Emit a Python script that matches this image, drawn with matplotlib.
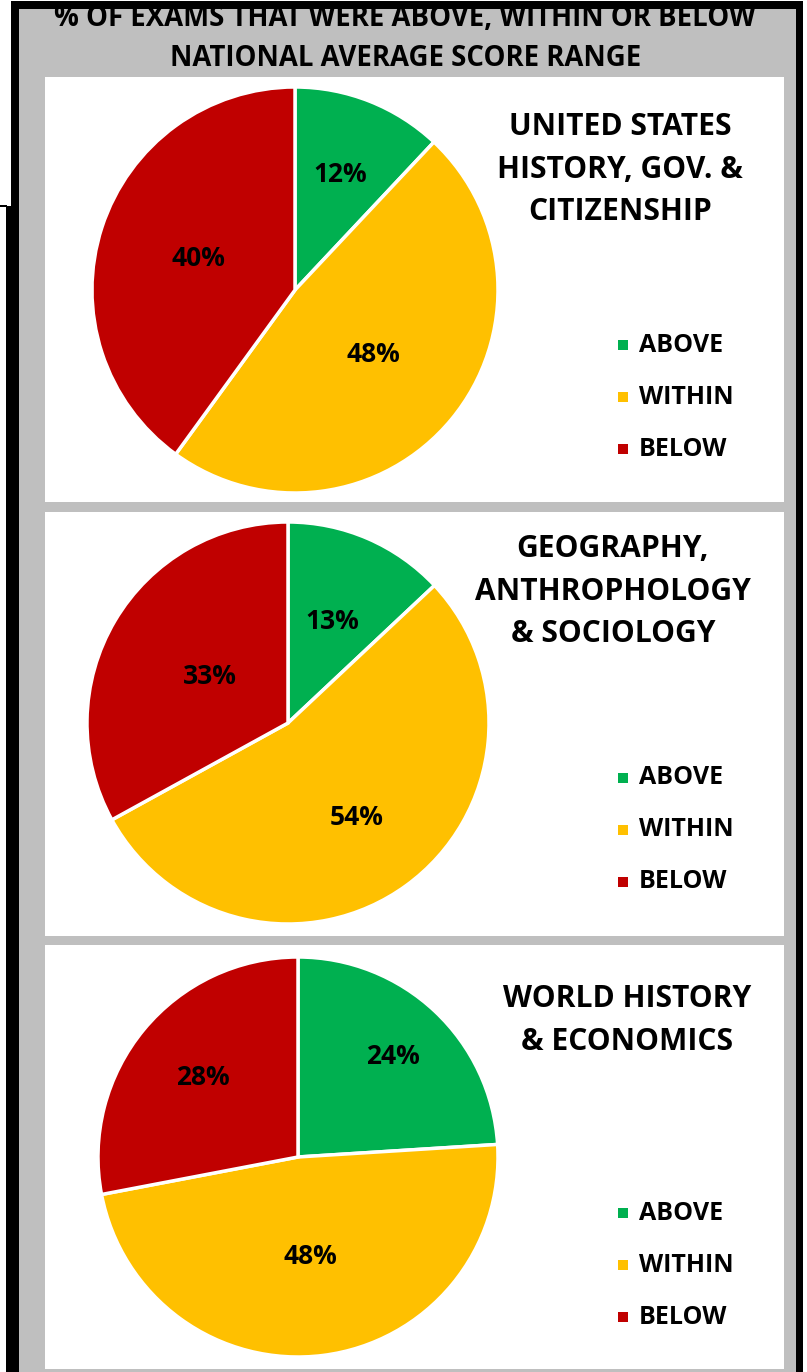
import matplotlib
matplotlib.use("Agg")
import matplotlib.pyplot as plt
from matplotlib.patches import Rectangle
from matplotlib import font_manager as fm
import numpy as np

# ---- data ----
categories = ["ABOVE", "WITHIN", "BELOW"]
colors = ["#00B050", "#FFC000", "#C00000"]
subjects = [
    "UNITED STATES\nHISTORY, GOV. &\nCITIZENSHIP",
    "GEOGRAPHY,\nANTHROPHOLOGY\n& SOCIOLOGY",
    "WORLD HISTORY\n& ECONOMICS",
]
us_history = [12, 48, 40]
geography = [13, 54, 33]
world_history = [24, 48, 28]
title = "% OF EXAMS THAT WERE ABOVE, WITHIN OR BELOW\nNATIONAL AVERAGE SCORE RANGE"

# ---- pick a font that has a real bold face ----
family = "DejaVu Sans"
for cand in ["Open Sans", "Lato", "Noto Sans", "Roboto", "Liberation Sans"]:
    ok = False
    for f in fm.fontManager.ttflist:
        w = f.weight if isinstance(f.weight, int) else fm.weight_dict.get(f.weight, 400)
        if f.name == cand and w >= 700 and f.style == "normal" and "Condensed" not in f.fname:
            ok = True
            break
    if ok:
        family = cand
        break
plt.rcParams['font.family'] = [family, 'DejaVu Sans']
scale = {"Open Sans": 1.0, "Lato": 1.07, "Noto Sans": 1.0, "Roboto": 1.07,
         "Liberation Sans": 1.02}.get(family, 0.95)

TITLE_FS = 19.8 * scale
SUB_FS = 21.6 * scale
LEG_FS = 18 * scale
LAB_FS = 19 * scale

# ---- layout (pixels) ----
W, H = 807, 1372
DPI = 100

fig = plt.figure(figsize=(W / DPI, H / DPI), dpi=DPI)
fig.patch.set_facecolor("white")
bg = fig.add_axes([0, 0, 1, 1])
bg.set_xlim(0, W)
bg.set_ylim(H, 0)
bg.axis("off")

GRAY = "#BFBFBF"
bg.add_patch(Rectangle((19, 9), 777, H - 9, facecolor=GRAY, edgecolor="none", zorder=1))
# black frame
bg.add_patch(Rectangle((11, 1), 792, 8, facecolor="black", edgecolor="none", zorder=10))
bg.add_patch(Rectangle((11, 1), 8, 206, facecolor="black", edgecolor="none", zorder=10))
bg.add_patch(Rectangle((6, 206), 13, H - 206, facecolor="black", edgecolor="none", zorder=10))
bg.add_patch(Rectangle((0, 205), 7, 2, facecolor="black", edgecolor="none", zorder=10))
bg.add_patch(Rectangle((796, 1), 7, H, facecolor="black", edgecolor="none", zorder=10))

panels = [(77, 502), (512, 936), (945, 1369)]
for (y0, y1) in panels:
    bg.add_patch(Rectangle((45, y0), 739, y1 - y0, facecolor="white", edgecolor="none", zorder=2))

t1, t2 = title.split("\n")
bg.text(405, 19, t1, ha="center", va="center", fontsize=TITLE_FS, fontweight="bold", zorder=5)
bg.text(406, 59, t2, ha="center", va="center", fontsize=TITLE_FS, fontweight="bold", zorder=5)

pies = [
    dict(values=us_history, center=(295, 290), r=203, sub_x=620, sub_y0=127,
         leg_y=345, dists=[0.61, 0.5, 0.5]),
    dict(values=geography, center=(288, 723), r=201, sub_x=613, sub_y0=549,
         leg_y=778, dists=[0.55, 0.58, 0.45]),
    dict(values=world_history, center=(298, 1157), r=200, sub_x=627, sub_y0=999,
         leg_y=1213, dists=[0.69, 0.5, 0.62]),
]

for p, subj in zip(pies, subjects):
    cx, cy = p["center"]
    r = p["r"]
    ax = fig.add_axes([(cx - r) / W, 1 - (cy + r) / H, 2 * r / W, 2 * r / H])
    wedges, _ = ax.pie(p["values"], colors=colors, startangle=90, counterclock=False,
                       radius=1, wedgeprops=dict(edgecolor="white", linewidth=2.5))
    ax.set_xlim(-1.0, 1.0)
    ax.set_ylim(-1.0, 1.0)
    ax.set_aspect("equal")
    ax.axis("off")
    for w, v, d in zip(wedges, p["values"], p["dists"]):
        th = np.deg2rad((w.theta1 + w.theta2) / 2)
        ax.text(d * np.cos(th), d * np.sin(th), f"{v}%", ha="center", va="center",
                fontsize=LAB_FS, fontweight="bold", color="black")
    for j, line in enumerate(subj.split("\n")):
        bg.text(p["sub_x"], p["sub_y0"] + 42.5 * j, line, ha="center", va="center",
                fontsize=SUB_FS, fontweight="bold", zorder=5)
    for i, (cat, col) in enumerate(zip(categories, colors)):
        ly = p["leg_y"] + 52 * i
        bg.add_patch(Rectangle((618, ly - 5), 10, 10, facecolor=col, edgecolor="none", zorder=5))
        bg.text(639, ly, cat, ha="left", va="center", fontsize=LEG_FS, fontweight="bold", zorder=5)

fig.savefig("out.png", dpi=DPI)
